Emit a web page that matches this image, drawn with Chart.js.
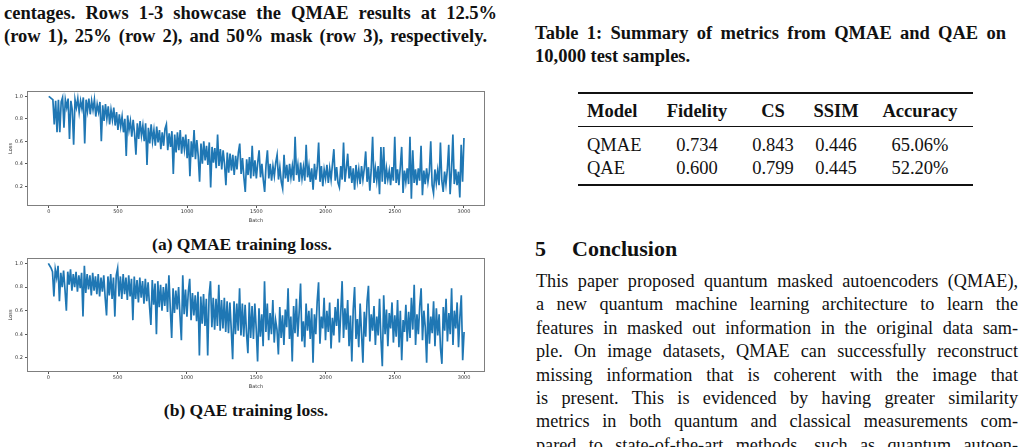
<!DOCTYPE html>
<html>
<head>
<meta charset="utf-8">
<script src="https://cdn.jsdelivr.net/npm/chart.js@4.4.1/dist/chart.umd.min.js"></script>
<style>
  html, body { margin: 0; padding: 0; background: #fff; }
  body { width: 1024px; height: 447px; position: relative; overflow: hidden;
         font-family: "Liberation Serif", "DejaVu Serif", serif; color: #111; }
  .t { position: absolute; white-space: nowrap; }
  .j { position: absolute; text-align: justify; text-align-last: justify; }
  .b { font-weight: bold; }
  canvas { position: absolute; left: 0; }
  .rule { position: absolute; left: 578px; width: 395px; background: #111; }
  .cell { position: absolute; white-space: nowrap; transform: translateX(-50%); }
</style>
</head>
<body>

<!-- left column caption tail -->
<div class="j b" style="left:4px; top:2px; width:493px; font-size:18.5px; line-height:23px;">centages. Rows 1-3 showcase the QMAE results at 12.5%</div>
<div class="j b" style="left:4px; top:25px; width:483px; font-size:18.5px; line-height:23px;">(row 1), 25% (row 2), and 50% mask (row 3), respectively.</div>

<canvas id="qmaeChart" width="500" height="142" style="top:85px"></canvas>
<div class="t b" style="left:242px; top:233px; transform:translateX(-50%); font-size:17.5px; line-height:22px;">(a) QMAE training loss.</div>

<canvas id="qaeChart" width="500" height="141" style="top:252px"></canvas>
<div class="t b" style="left:246px; top:399px; transform:translateX(-50%); font-size:17.5px; line-height:22px;">(b) QAE training loss.</div>

<!-- table -->
<div class="j b" style="left:535px; top:22px; width:471px; font-size:18.5px; line-height:23px;">Table 1: Summary of metrics from QMAE and QAE on</div>
<div class="t b" style="left:535px; top:45px; font-size:18.5px; line-height:23px;">10,000 test samples.</div>

<div class="rule" style="top:92px; height:1.5px;"></div>
<div class="rule" style="top:126px; height:1px;"></div>
<div class="rule" style="top:184px; height:1.5px;"></div>
<div id="tbl"></div>

<!-- conclusion -->
<div class="t b" style="left:535px; top:236px; font-size:22px; line-height:26px;">5</div>
<div class="t b" style="left:572px; top:236px; font-size:22px; line-height:26px;">Conclusion</div>
<div id="body"></div>

<script>
// loss traces, one value every BATCH_STEP batches (0..3000)
const BATCH_STEP = 10;
const xTicks = [0, 500, 1000, 1500, 2000, 2500, 3000];
const yTicks = [0.2, 0.4, 0.6, 0.8, 1.0];

const qmaeLoss = [
  1.00, 0.99, 0.98, 0.97, 0.75, 0.96, 0.68, 0.97, 0.68, 0.95,
  0.99, 0.72, 0.97, 0.90, 0.98, 0.62, 0.96, 0.88, 0.57, 0.97,
  0.90, 0.98, 0.86, 0.96, 0.89, 0.99, 0.58, 0.97, 0.87, 0.98,
  0.84, 0.96, 0.88, 0.97, 0.82, 0.93, 0.86, 0.95, 0.60, 0.92,
  0.78, 0.93, 0.80, 0.91, 0.75, 0.88, 0.79, 0.90, 0.74, 0.86,
  0.70, 0.84, 0.73, 0.82, 0.68, 0.80, 0.47, 0.83, 0.70, 0.78,
  0.64, 0.79, 0.67, 0.48, 0.76, 0.62, 0.78, 0.65, 0.74, 0.60,
  0.76, 0.39, 0.72, 0.58, 0.75, 0.60, 0.70, 0.56, 0.73, 0.59,
  0.70, 0.53, 0.68, 0.56, 0.71, 0.75, 0.52, 0.67, 0.55, 0.69,
  0.31, 0.66, 0.50, 0.68, 0.52, 0.70, 0.49, 0.64, 0.53, 0.66,
  0.45, 0.62, 0.29, 0.60, 0.46, 0.70, 0.44, 0.61, 0.47, 0.24,
  0.58, 0.40, 0.60, 0.43, 0.56, 0.39, 0.59, 0.19, 0.55, 0.41,
  0.54, 0.36, 0.66, 0.38, 0.53, 0.35, 0.52, 0.40, 0.21, 0.50,
  0.32, 0.49, 0.34, 0.48, 0.30, 0.47, 0.35, 0.50, 0.58, 0.31,
  0.45, 0.28, 0.15, 0.44, 0.30, 0.46, 0.27, 0.56, 0.29, 0.43,
  0.27, 0.41, 0.52, 0.28, 0.40, 0.26, 0.15, 0.39, 0.52, 0.27,
  0.40, 0.25, 0.38, 0.29, 0.41, 0.48, 0.26, 0.37, 0.24, 0.18,
  0.48, 0.27, 0.39, 0.24, 0.40, 0.28, 0.38, 0.25, 0.64, 0.30,
  0.39, 0.24, 0.41, 0.27, 0.37, 0.25, 0.57, 0.28, 0.38, 0.24,
  0.36, 0.17, 0.40, 0.26, 0.37, 0.59, 0.24, 0.38, 0.20, 0.35,
  0.27, 0.39, 0.23, 0.36, 0.26, 0.40, 0.53, 0.25, 0.37, 0.23,
  0.19, 0.38, 0.26, 0.59, 0.24, 0.36, 0.49, 0.27, 0.38, 0.23,
  0.36, 0.17, 0.39, 0.25, 0.35, 0.22, 0.38, 0.26, 0.36, 0.51,
  0.24, 0.37, 0.16, 0.35, 0.64, 0.23, 0.36, 0.25, 0.38, 0.13,
  0.55, 0.24, 0.55, 0.22, 0.36, 0.26, 0.34, 0.21, 0.37, 0.25,
  0.64, 0.23, 0.35, 0.21, 0.37, 0.55, 0.14, 0.34, 0.24, 0.36,
  0.22, 0.64, 0.09, 0.52, 0.23, 0.35, 0.21, 0.36, 0.25, 0.56,
  0.12, 0.34, 0.22, 0.36, 0.24, 0.33, 0.60, 0.21, 0.14, 0.35,
  0.23, 0.34, 0.21, 0.59, 0.25, 0.15, 0.33, 0.22, 0.35, 0.57,
  0.13, 0.34, 0.66, 0.22, 0.35, 0.21, 0.33, 0.10, 0.57, 0.24,
  0.63
];

const qaeLoss = [
  1.00, 0.98, 0.96, 0.93, 0.72, 0.95, 0.88, 0.98, 0.68, 0.92,
  0.80, 0.94, 0.78, 0.60, 0.93, 0.82, 0.95, 0.77, 0.91, 0.80,
  0.93, 0.76, 0.90, 0.79, 0.92, 0.55, 0.98, 0.75, 0.91, 0.78,
  0.90, 0.73, 0.92, 0.77, 0.89, 0.74, 0.91, 0.72, 0.88, 0.76,
  0.90, 0.71, 0.56, 0.89, 0.73, 0.91, 0.70, 0.88, 0.55, 0.90,
  0.96, 0.72, 0.89, 0.70, 0.91, 0.74, 0.88, 0.69, 0.90, 0.72,
  0.87, 0.52, 0.89, 0.70, 0.86, 0.67, 0.88, 0.71, 0.85, 0.66,
  0.87, 0.68, 0.84, 0.64, 0.48, 0.86, 0.65, 0.83, 0.40, 0.85,
  0.63, 0.82, 0.60, 0.80, 0.64, 0.83, 0.59, 0.90, 0.62, 0.37,
  0.79, 0.58, 0.77, 0.61, 0.80, 0.56, 0.35, 0.90, 0.57, 0.78,
  0.55, 0.76, 0.87, 0.52, 0.75, 0.56, 0.73, 0.51, 0.76, 0.22,
  0.72, 0.49, 0.74, 0.47, 0.70, 0.22, 0.73, 0.85, 0.46, 0.71,
  0.44, 0.70, 0.47, 0.82, 0.43, 0.69, 0.45, 0.71, 0.42, 0.68,
  0.41, 0.67, 0.44, 0.19, 0.68, 0.40, 0.66, 0.43, 0.79, 0.39,
  0.66, 0.38, 0.65, 0.41, 0.24, 0.67, 0.37, 0.64, 0.36, 0.66,
  0.45, 0.17, 0.62, 0.38, 0.57, 0.30, 0.85, 0.42, 0.66, 0.35,
  0.58, 0.40, 0.69, 0.33, 0.52, 0.44, 0.23, 0.63, 0.37, 0.56,
  0.31, 0.61, 0.46, 0.79, 0.36, 0.55, 0.17, 0.64, 0.41, 0.70,
  0.38, 0.59, 0.83, 0.34, 0.51, 0.29, 0.66, 0.43, 0.60, 0.36,
  0.62, 0.16, 0.57, 0.40, 0.68, 0.84, 0.32, 0.55, 0.45, 0.71,
  0.35, 0.60, 0.42, 0.67, 0.28, 0.54, 0.39, 0.63, 0.47, 0.70,
  0.33, 0.58, 0.85, 0.37, 0.62, 0.44, 0.69, 0.30, 0.56, 0.17,
  0.61, 0.80, 0.36, 0.53, 0.29, 0.66, 0.41, 0.16, 0.59, 0.38,
  0.68, 0.81, 0.34, 0.57, 0.43, 0.64, 0.31, 0.55, 0.39, 0.70,
  0.36, 0.13, 0.73, 0.40, 0.61, 0.30, 0.58, 0.45, 0.67, 0.33,
  0.56, 0.38, 0.69, 0.29, 0.60, 0.18, 0.52, 0.42, 0.65, 0.34,
  0.59, 0.37, 0.71, 0.44, 0.82, 0.31, 0.57, 0.40, 0.64, 0.79,
  0.35, 0.60, 0.46, 0.16, 0.66, 0.32, 0.55, 0.41, 0.68, 0.30,
  0.62, 0.39, 0.57, 0.28, 0.15, 0.63, 0.43, 0.70, 0.34, 0.58,
  0.40, 0.79, 0.31, 0.60, 0.45, 0.67, 0.29, 0.55, 0.73, 0.18,
  0.42
];

// table
const tableCols = ['Model', 'Fidelity', 'CS', 'SSIM', 'Accuracy'];
const tableModels = ['QMAE', 'QAE'];
const fidelity = ['0.734', '0.600'];
const cosSim = ['0.843', '0.799'];
const ssim = ['0.446', '0.445'];
const accuracy = ['65.06%', '52.20%'];

const bodyLines = [
  'This paper proposed quantum masked autoencoders (QMAE),',
  'a new quantum machine learning architecture to learn the',
  'features in masked out information in the original data sam-',
  'ple. On image datasets, QMAE can successfully reconstruct',
  'missing information that is coherent with the image that',
  'is present. This is evidenced by having greater similarity',
  'metrics in both quantum and classical measurements com-',
  'pared to state-of-the-art methods, such as quantum autoen-',
];

// ---- table + text ----
const colCenters = [null, 697, 773, 836, 920];
let html = '';
tableCols.forEach((c, i) => {
  if (i === 0) html += `<div class="t b" style="left:587px; top:99px; font-size:18.5px; line-height:24px;">${c}</div>`;
  else html += `<div class="cell b" style="left:${colCenters[i]}px; top:99px; font-size:18.5px; line-height:24px;">${c}</div>`;
});
tableModels.forEach((m, r) => {
  const top = 134 + r * 22.5;
  const row = [m, fidelity[r], cosSim[r], ssim[r], accuracy[r]];
  row.forEach((v, i) => {
    if (i === 0) html += `<div class="t" style="left:587px; top:${top}px; font-size:18.5px; line-height:23px;">${v}</div>`;
    else html += `<div class="cell" style="left:${colCenters[i]}px; top:${top}px; font-size:18.5px; line-height:23px;">${v}</div>`;
  });
});
document.getElementById('tbl').innerHTML = html;

document.getElementById('body').innerHTML = bodyLines.map((l, i) =>
  `<div class="j" style="left:536px; top:${270 + i * 23.4}px; width:482px; font-size:18.2px; line-height:23px;">${l}</div>`
).join('');

// ---- charts ----
const framePlugin = {
  id: 'frame',
  afterDraw(chart) {
    const { ctx, chartArea: a } = chart;
    ctx.save();
    ctx.strokeStyle = '#7f7f7f';
    ctx.lineWidth = 1;
    ctx.strokeRect(Math.round(a.left) + 0.5, Math.round(a.top) + 0.5,
                   Math.round(a.right - a.left) - 1, Math.round(a.bottom - a.top) - 1);
    ctx.restore();
  }
};

const tickFont = { size: 5, family: 'DejaVu Sans' };

function lossChart(id, values, yMin, yMax, xMin, xMax) {
  const ctx = document.getElementById(id).getContext('2d');
  return new Chart(ctx, {
    type: 'line',
    data: {
      datasets: [{
        data: values.map((v, i) => ({ x: i * BATCH_STEP, y: v })),
        borderColor: '#1f77b4',
        borderWidth: 1.7,
        pointRadius: 0,
        tension: 0,
        fill: false,
      }],
    },
    options: {
      responsive: false,
      animation: false,
      events: [],
      layout: { padding: { top: 6, right: 15, left: 0, bottom: 0 } },
      plugins: { legend: { display: false }, tooltip: { enabled: false } },
      scales: {
        x: {
          type: 'linear', min: xMin, max: xMax,
          afterBuildTicks: s => { s.ticks = xTicks.map(v => ({ value: v })); },
          afterFit: s => { s.height = 21; },
          grid: { drawOnChartArea: false, drawTicks: true, tickLength: 2, color: '#555' },
          border: { display: false },
          ticks: { font: tickFont, color: '#333', padding: 1, maxRotation: 0, autoSkip: false, callback: v => String(v) },
          title: { display: true, text: 'Batch', font: tickFont, color: '#333', padding: { top: 0, bottom: 3 } },
        },
        y: {
          min: yMin, max: yMax,
          afterBuildTicks: s => { s.ticks = yTicks.map(v => ({ value: v })); },
          afterFit: s => { s.width = 27; },
          grid: { drawOnChartArea: false, drawTicks: true, tickLength: 2, color: '#555' },
          border: { display: false },
          ticks: { font: tickFont, color: '#333', padding: 2, callback: v => v.toFixed(1) },
          title: { display: true, text: 'Loss', font: tickFont, color: '#333', padding: { top: 8, bottom: 0 } },
        },
      },
    },
    plugins: [framePlugin],
  });
}

lossChart('qmaeChart', qmaeLoss, 0.025, 1.047, -157, 3152);
lossChart('qaeChart', qaeLoss, 0.081, 1.046, -154, 3151);
</script>
</body>
</html>
